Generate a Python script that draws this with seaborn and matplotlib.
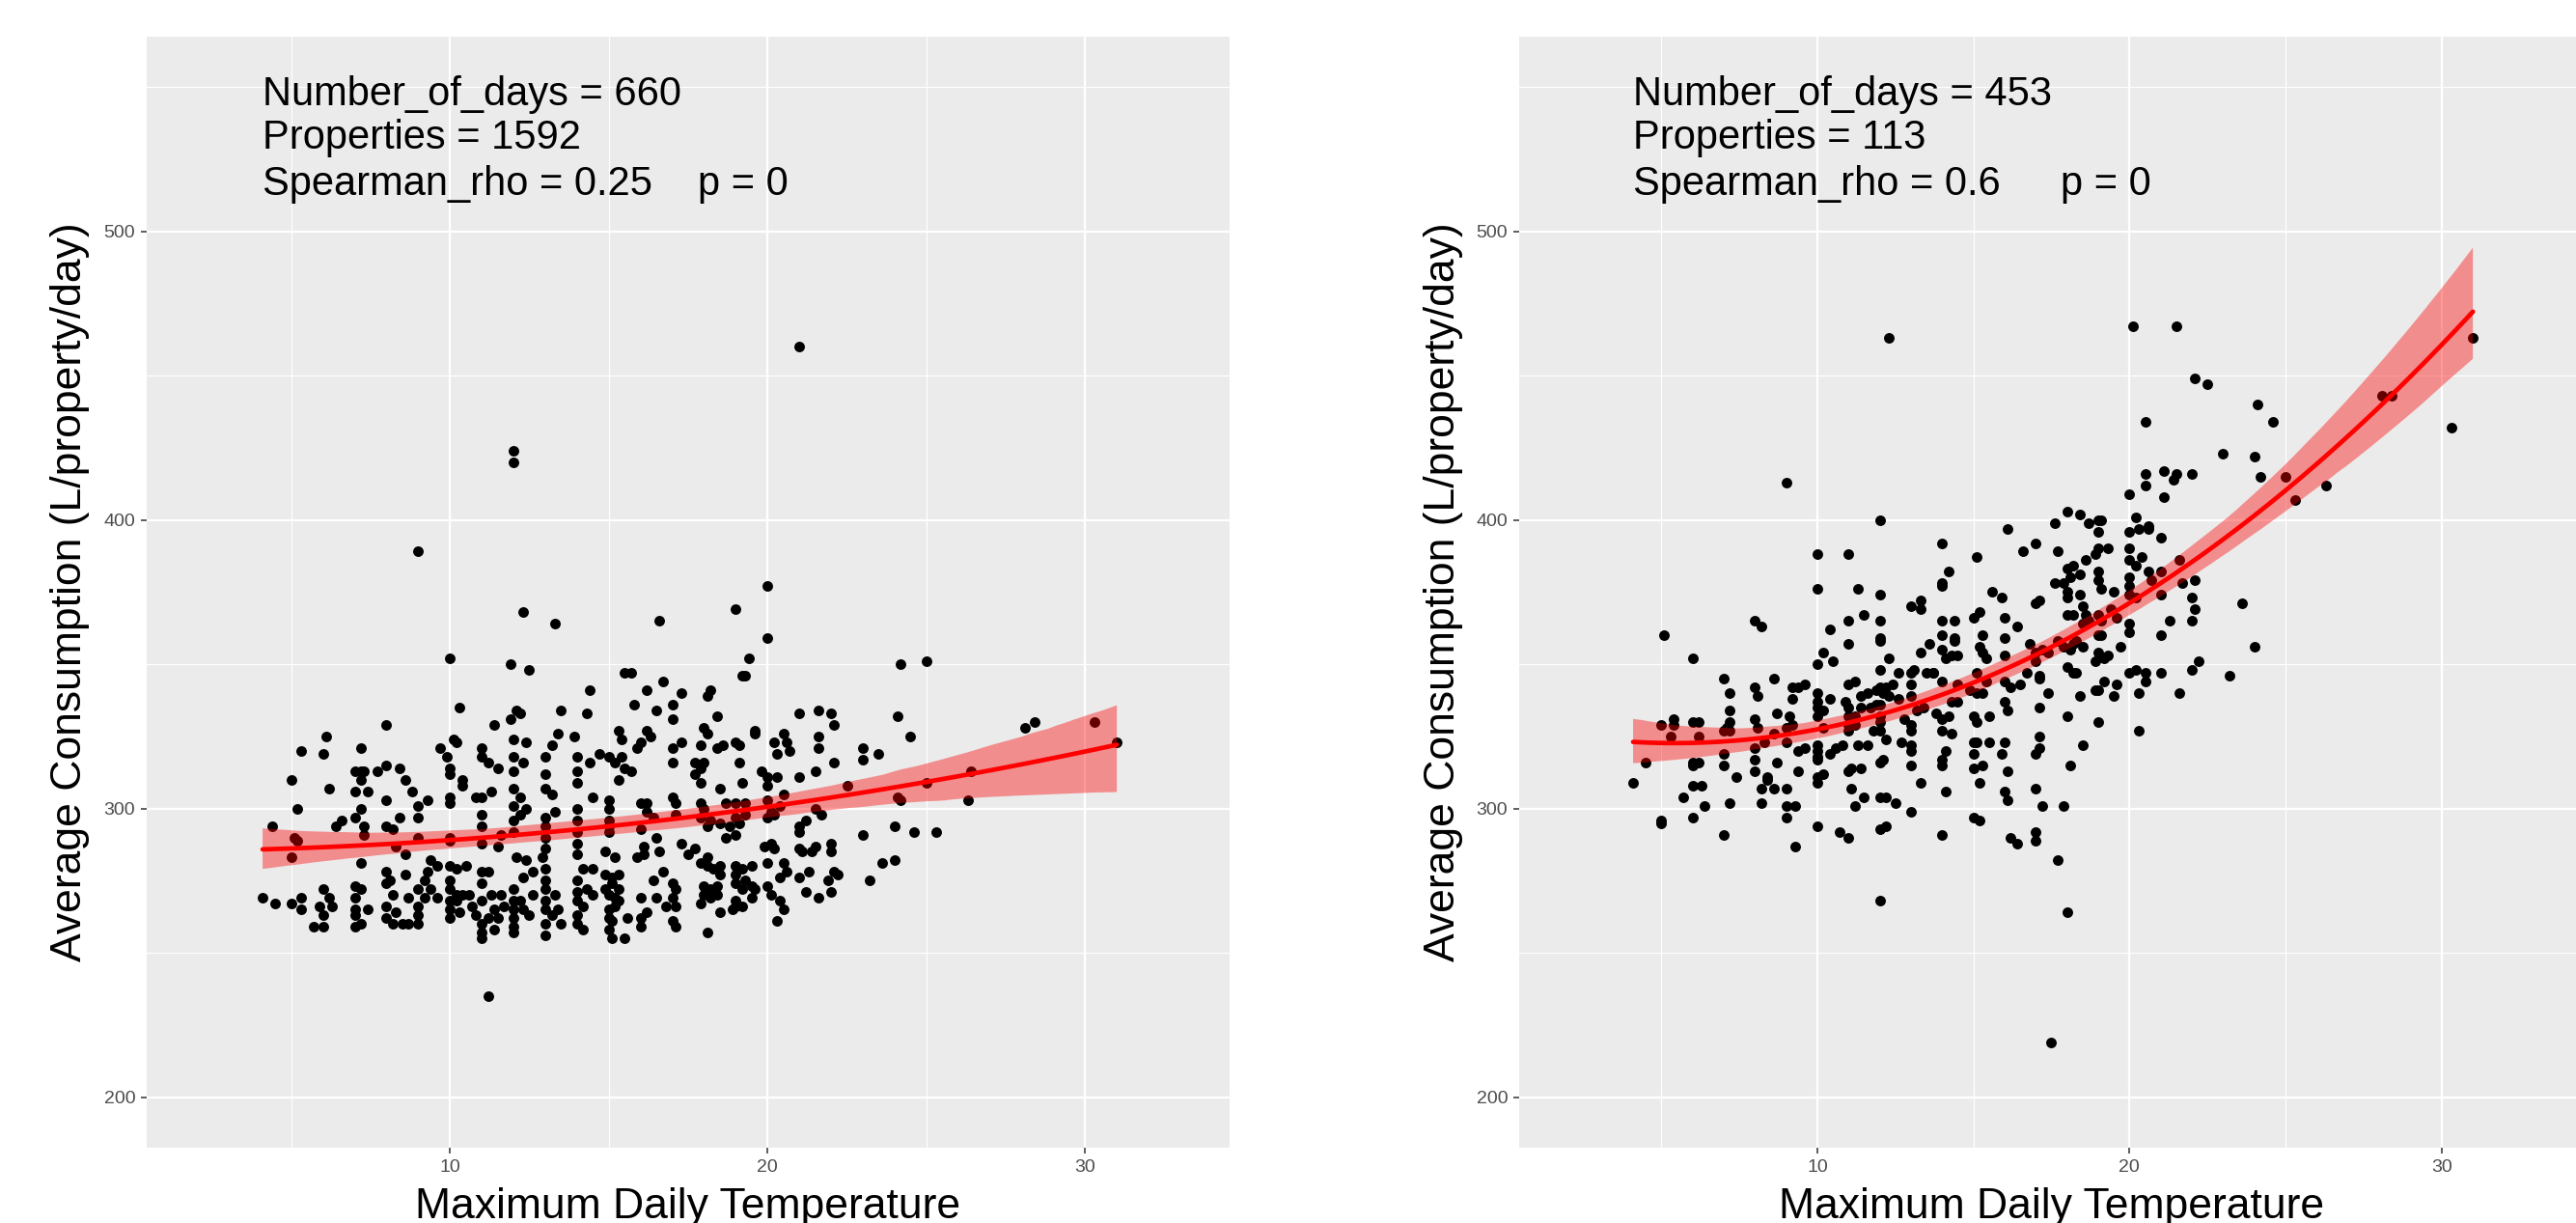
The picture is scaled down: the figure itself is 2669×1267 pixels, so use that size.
import matplotlib
matplotlib.use("Agg")
import pandas as pd
import matplotlib.pyplot as plt
import seaborn as sns
from matplotlib.ticker import MultipleLocator

# values, one line per temperature column
left_temp = [
    4.1, 4.5, 4.4,
    5.0, 5.2, 5.3, 5.1, 5.2, 5.0, 5.0, 5.3, 5.3,
    6.1, 6.0, 6.2, 6.4, 6.6, 6.0, 6.2, 5.9, 6.3, 6.0, 5.7, 6.0,
    7.2, 7.0, 7.2, 7.3, 7.2, 7.0, 7.4, 7.2, 7.0, 7.3, 7.3, 7.2, 7.0, 7.2, 7.0, 7.0, 7.4, 7.0, 7.2, 7.0,
    8.0, 7.7, 8.0, 8.4, 8.6, 8.0, 8.4, 8.0, 8.2, 8.8, 8.3, 8.6, 8.0, 8.1, 8.0, 8.6, 8.2, 8.7, 8.0, 8.3, 8.0, 8.2, 8.5, 8.7,
    9.0, 9.0, 9.3, 9.0, 9.0, 9.3, 9.0, 9.2, 9.4, 9.6, 9.4, 9.6, 9.0, 9.0, 9.0, 9.2,
    10.0, 10.3, 9.7, 9.9, 10.1, 10.2, 10.0, 10.0, 10.4, 10.4, 10.0, 10.0, 10.0, 10.0, 10.0, 10.2, 10.5, 10.0, 10.0, 10.2, 10.4, 10.6, 10.0, 10.0, 10.0, 10.2, 10.3,
    11.0, 11.0, 11.2, 11.5, 11.4, 10.8, 11.0, 11.3, 11.0, 11.0, 11.6, 11.5, 11.0, 11.0, 11.2, 11.0, 11.2, 11.0, 11.0, 10.7, 10.8, 11.0, 11.2, 11.3, 11.4, 11.0, 11.5, 11.6, 11.4, 11.7,
    12.0, 12.0, 11.9, 12.3, 12.5, 11.9, 12.1, 12.2, 12.0, 12.4, 12.0, 12.0, 12.3, 12.0, 12.2, 12.0, 12.4, 12.0, 12.2, 12.0, 12.1, 12.4, 12.6, 12.3, 12.0, 12.0, 12.0, 12.0, 12.0, 12.0, 12.2, 12.3, 12.5, 12.6,
    13.3, 13.2, 13.4, 13.5, 13.0, 13.0, 13.3, 13.0, 13.0, 12.9, 13.0, 13.0, 13.5, 13.0, 13.0, 13.0, 13.2, 13.0, 13.0, 13.0, 13.0, 13.0, 13.3, 13.4, 13.2,
    14.3, 14.4, 14.5, 14.2, 14.5, 14.0, 14.0, 14.0, 14.0, 14.0, 14.0, 14.0, 14.0, 14.0, 14.0, 14.0, 14.2, 14.0, 14.2, 14.0, 14.3, 14.5, 13.9,
    15.5, 15.3, 15.4, 15.8, 15.0, 15.0, 15.0, 15.0, 15.0, 14.9, 15.2, 14.9, 15.1, 15.3, 14.9, 15.1, 15.3, 15.0, 15.2, 15.0, 15.2, 15.3, 15.0, 15.1, 15.0, 15.1, 15.5, 15.6, 14.4, 14.7, 15.0, 15.2, 15.4, 15.5, 15.3, 15.7,
    15.7, 16.7, 16.2, 16.5, 16.2, 16.3, 16.0, 15.9, 16.0, 16.2, 16.2, 16.4, 16.0, 16.5, 16.6, 15.9, 16.1, 16.1, 16.4, 16.0, 16.2, 16.0, 16.0, 16.5, 16.7, 16.6,
    17.3, 17.0, 17.0, 17.3, 17.0, 17.0, 17.0, 17.1, 17.1, 17.3, 17.5, 17.7, 17.0, 17.1, 17.0, 16.8, 17.1, 17.0, 17.1,
    18.2, 18.1, 18.4, 18.0, 18.1, 17.9, 18.4, 18.6, 17.7, 17.7, 17.9, 18.0, 17.9, 18.5, 17.9, 18.0, 17.9, 18.2, 18.1, 18.5, 17.9, 18.1, 18.1, 18.3, 18.5, 18.5, 18.0, 18.2, 18.0, 18.4, 18.2, 17.9, 18.5, 18.1, 18.4,
    19.0, 19.4, 19.2, 19.3, 19.0, 19.1, 19.1, 19.2, 18.7, 19.0, 19.3, 19.3, 19.0, 19.1, 18.8, 18.7, 19.0, 19.0, 19.0, 19.2, 19.0, 19.2, 19.3, 19.0, 19.0, 18.9, 19.2, 19.5, 19.5, 19.5, 19.6,
    20.0, 20.0, 19.6, 20.2, 20.5, 20.6, 20.7, 20.3, 19.8, 20.0, 20.3, 20.0, 20.0, 20.1, 20.4, 20.5, 20.0, 20.2, 19.9, 20.1, 20.2, 20.0, 20.5, 20.4, 20.6, 20.0, 20.1, 20.4, 20.5, 20.3, 19.6,
    21.0, 21.0, 21.6, 22.0, 21.6, 21.6, 21.0, 21.5, 21.5, 21.7, 21.0, 21.2, 21.0, 21.0, 21.1, 21.0, 21.3, 21.2, 21.6, 21.4, 21.5,
    22.1, 22.1, 22.5, 22.0, 22.0, 21.9, 22.0, 22.2, 22.1,
    23.0, 23.0, 23.5, 23.0, 23.2, 23.6,
    24.1, 24.5, 24.2, 24.1, 24.0, 24.6, 24.0, 24.2,
    25.0, 25.0, 25.3, 26.4, 26.3, 28.1, 28.4, 30.3, 31.0,
]
left_cons = [
    269, 267, 294,
    310, 300, 320, 290, 289, 283, 267, 269, 265,
    325, 319, 307, 294, 296, 272, 269, 266, 266, 263, 259, 259,
    321, 313, 313, 313, 310, 306, 306, 300, 297, 294, 291, 281, 273, 272, 269, 265, 265, 263, 260, 259,
    329, 313, 315, 314, 310, 303, 297, 294, 293, 306, 287, 284, 278, 275, 274, 277, 270, 269, 266, 264, 262, 260, 260, 260,
    389, 301, 303, 297, 290, 278, 272, 269, 272, 269, 282, 280, 260, 263, 266, 275,
    352, 335, 321, 318, 324, 323, 314, 312, 310, 308, 304, 302, 290, 289, 280, 279, 280, 275, 272, 270, 270, 270, 268, 265, 262, 268, 264,
    321, 318, 316, 314, 329, 304, 304, 306, 298, 294, 291, 287, 288, 278, 278, 274, 235, 257, 255, 266, 263, 268, 262, 270, 265, 260, 262, 270, 258, 266,
    424, 420, 350, 368, 348, 331, 334, 333, 324, 323, 318, 313, 316, 307, 304, 301, 300, 296, 298, 292, 283, 282, 278, 276, 272, 268, 265, 262, 259, 257, 268, 265, 263, 270,
    364, 322, 326, 334, 297, 294, 299, 290, 286, 283, 260, 256, 260, 318, 312, 307, 305, 279, 275, 272, 268, 265, 270, 265, 263,
    333, 341, 304, 279, 279, 318, 313, 309, 300, 296, 292, 288, 284, 275, 271, 268, 266, 263, 258, 260, 272, 270, 325,
    347, 327, 324, 336, 303, 300, 296, 294, 292, 285, 283, 277, 276, 277, 272, 274, 272, 270, 269, 265, 266, 268, 262, 261, 258, 255, 255, 262, 316, 319, 318, 316, 318, 314, 310, 313,
    347, 344, 341, 334, 327, 325, 323, 321, 302, 302, 299, 297, 293, 290, 285, 283, 284, 287, 275, 269, 264, 262, 259, 269, 278, 365,
    340, 336, 331, 323, 321, 316, 304, 302, 298, 288, 284, 286, 274, 272, 269, 266, 266, 261, 259,
    341, 339, 332, 328, 326, 322, 321, 322, 316, 312, 314, 316, 309, 307, 302, 300, 297, 296, 294, 295, 281, 283, 280, 279, 280, 277, 273, 272, 270, 270, 269, 267, 264, 257, 273,
    369, 352, 346, 346, 323, 322, 316, 309, 302, 302, 302, 298, 297, 295, 294, 290, 291, 280, 277, 279, 274, 272, 275, 268, 266, 265, 266, 280, 273, 269, 272,
    377, 359, 326, 323, 326, 323, 320, 319, 313, 311, 311, 308, 303, 299, 301, 305, 297, 298, 287, 288, 286, 281, 281, 276, 278, 273, 270, 268, 265, 261, 327,
    460, 333, 334, 333, 325, 321, 311, 313, 300, 298, 294, 296, 292, 286, 285, 276, 278, 271, 269, 285, 287,
    329, 316, 308, 288, 285, 275, 271, 277, 278,
    321, 317, 319, 291, 275, 281,
    332, 325, 303, 304, 294, 292, 282, 350,
    351, 309, 292, 313, 303, 328, 330, 330, 323,
]

right_temp = [
    4.1, 4.5, 5.0, 5.0, 5.0, 5.1, 5.3, 5.4, 5.4, 5.7, 6.0, 6.0, 6.2, 6.2, 6.0, 6.2, 6.0, 6.0, 6.3, 6.4, 6.0,
    7.0, 7.2, 7.2, 7.2, 7.1, 7.2, 7.0, 7.0, 7.0, 7.4, 7.2, 7.0,
    8.0, 8.2, 8.0, 8.1, 8.0, 8.1, 8.6, 8.7, 8.6, 8.3, 8.0, 8.0, 8.0, 8.7, 8.4, 8.4, 8.2, 8.6, 8.2,
    9.0, 9.0, 9.3, 9.0, 9.3, 9.0, 9.1, 9.2, 9.0, 9.2, 9.2, 9.4, 9.6, 9.0, 9.4, 9.6, 9.4,
    10.0, 10.0, 10.2, 10.0, 10.5, 10.4, 10.0, 10.0, 10.0, 10.2, 10.4, 10.0, 10.2, 10.0, 10.0, 10.0, 10.0, 10.4, 10.6, 10.8, 10.0, 10.2, 10.0, 10.0, 10.7, 11.0,
    11.0, 11.3, 11.0, 11.5, 11.0, 11.0, 11.2, 10.9, 11.0, 11.0, 11.2, 11.4, 11.4, 11.6, 11.7, 11.0, 11.0, 11.2, 11.3, 11.6, 11.0, 11.1, 11.4, 11.1, 11.5, 11.2,
    12.0, 12.0, 12.0, 12.0, 12.0, 12.3, 12.0, 12.0, 12.2, 12.4, 11.9, 12.1, 12.3, 12.0, 11.9, 12.0, 12.0, 12.0, 11.8, 12.2, 12.0, 12.1, 12.0, 12.2, 12.5, 12.0, 12.2, 12.0, 12.6, 12.6, 12.3,
    13.0, 13.3, 13.3, 13.3, 13.0, 13.1, 13.5, 13.7, 13.0, 13.0, 12.8, 13.0, 13.0, 13.2, 13.4, 12.7, 13.0, 13.0, 13.0, 13.3, 13.0, 13.6, 13.7,
    14.0, 14.2, 14.0, 14.0, 14.0, 14.4, 14.0, 14.4, 14.0, 14.1, 14.3, 14.5, 14.4, 14.0, 14.5, 13.8, 14.3, 14.5, 14.0, 14.2, 14.0, 14.3, 14.1, 14.0, 14.0, 14.1, 14.0,
    15.0, 15.2, 15.1, 15.6, 15.9, 15.3, 15.2, 15.3, 15.4, 14.9, 15.1, 15.1, 15.3, 15.4, 15.0, 15.1, 15.5, 15.5, 15.0, 15.1, 15.0, 15.0, 15.3, 15.2, 15.0, 15.2, 15.9,
    16.1, 16.6, 16.0, 16.4, 16.0, 16.0, 16.8, 16.7, 16.0, 16.2, 16.5, 16.0, 16.1, 16.0, 16.1, 16.0, 16.1, 16.2, 16.4,
    17.0, 17.7, 17.0, 17.1, 17.6, 17.6, 17.0, 17.2, 17.0, 17.4, 17.7, 17.9, 17.1, 17.1, 17.4, 17.1, 17.1, 17.1, 17.0, 17.0, 17.2, 17.0, 17.0, 17.5,
    18.0, 18.4, 18.7, 19.0, 19.1, 19.0, 19.3, 19.0, 18.9, 18.6,
    18.0, 18.2, 18.1, 18.4, 17.9, 18.0, 18.0, 18.4, 18.5, 18.0,
    18.2, 18.6, 18.7, 18.5, 19.0, 19.0, 19.1, 19.0, 19.1, 19.4,
    19.0, 19.1, 18.1, 18.3, 18.2, 18.5, 19.0, 18.9, 19.2, 19.3,
    18.0, 18.2, 18.3, 19.2, 18.9, 19.0, 18.4, 19.5, 19.6, 18.0,
    19.0, 18.5, 18.1, 17.9, 17.7, 18.0, 19.5, 19.6, 19.7,
    20.1, 20.5, 20.0, 20.2, 20.3, 20.6, 20.6, 20.0, 20.0, 20.0, 20.2, 20.4, 20.0, 20.0, 20.6, 20.7, 20.2, 20.0, 20.0, 20.0, 20.0, 20.2, 20.5, 20.5, 20.3, 20.3, 20.5, 20.5,
    21.0, 21.0, 21.0, 21.0, 21.0, 21.1, 21.1, 21.4, 21.5, 21.5, 21.3, 21.6, 21.7, 21.6,
    22.0, 22.1, 22.5, 22.1, 22.0, 22.1, 22.0, 22.2, 22.0, 23.0, 23.2, 23.6, 24.1, 24.6, 24.0, 24.2, 24.0, 25.0, 25.3, 26.3, 28.1, 28.4, 30.3, 31.0,
]
right_cons = [
    309, 316, 296, 295, 329, 360, 325, 331, 329, 304, 352, 330, 330, 325, 316, 316, 315, 308, 308, 301, 297,
    345, 340, 334, 330, 328, 327, 327, 319, 315, 311, 302, 291,
    365, 363, 342, 339, 331, 328, 345, 333, 326, 323, 321, 317, 313, 316, 311, 310, 307, 307, 302,
    307, 301, 301, 297, 287, 413, 332, 329, 328, 338, 342, 342, 343, 323, 320, 321, 313,
    388, 376, 354, 350, 351, 362, 340, 337, 335, 334, 338, 332, 328, 322, 320, 318, 317, 319, 321, 322, 311, 312, 309, 294, 292, 290,
    388, 376, 365, 367, 357, 343, 344, 337, 335, 332, 332, 339, 335, 340, 335, 329, 327, 329, 322, 322, 313, 314, 314, 307, 304, 301,
    400, 374, 365, 359, 358, 352, 348, 342, 342, 343, 341, 340, 339, 336, 336, 332, 330, 327, 327, 324, 316, 317, 304, 304, 302, 293, 294, 268, 347, 338, 463,
    370, 372, 369, 354, 347, 348, 347, 347, 343, 339, 331, 329, 327, 334, 335, 323, 322, 320, 315, 309, 299, 357, 347,
    392, 382, 378, 377, 365, 365, 360, 359, 355, 352, 353, 353, 358, 344, 343, 333, 337, 337, 331, 332, 327, 326, 320, 317, 315, 306, 291,
    366, 368, 387, 375, 373, 360, 356, 354, 352, 341, 347, 340, 340, 344, 332, 330, 332, 323, 323, 323, 319, 314, 315, 309, 297, 296, 319,
    397, 389, 366, 363, 359, 353, 357, 347, 344, 342, 343, 337, 334, 323, 313, 306, 303, 290, 288,
    392, 389, 371, 372, 378, 399, 354, 355, 351, 354, 358, 356, 346, 345, 340, 335, 325, 321, 319, 307, 301, 292, 289, 219,
    403, 402, 399, 400, 400, 396, 390, 390, 388, 386,
    383, 384, 380, 381, 378, 375, 373, 374, 370, 367,
    367, 367, 365, 364, 382, 379, 376, 367, 365, 369,
    360, 360, 355, 358, 357, 356, 354, 351, 352, 353,
    349, 347, 347, 344, 341, 341, 339, 339, 343, 332,
    330, 322, 315, 301, 282, 264, 375, 366, 356,
    467, 434, 409, 401, 397, 398, 397, 396, 390, 386, 384, 387, 380, 377, 382, 379, 373, 374, 364, 361, 347, 348, 347, 344, 340, 327, 416, 412,
    394, 382, 374, 360, 347, 417, 408, 414, 416, 467, 365, 386, 378, 340,
    416, 449, 447, 379, 373, 369, 365, 351, 348, 423, 346, 371, 440, 434, 422, 415, 356, 415, 407, 412, 443, 443, 432, 463,
]

left_info = ["Number_of_days = 660", "Properties = 1592", "Spearman_rho = 0.25"]
right_info = ["Number_of_days = 453", "Properties = 113", "Spearman_rho = 0.6"]
p_text = "p = 0"
x_title = "Maximum Daily Temperature"
y_title = "Average Consumption (L/property/day)"

sns.set_style("darkgrid", {"axes.facecolor": "#EBEBEB", "grid.color": "white"})
plt.rcParams["font.family"] = ["Liberation Sans", "DejaVu Sans"]
plt.rcParams["text.color"] = "black"
plt.rcParams["axes.labelcolor"] = "black"

fig = plt.figure(figsize=(26.69, 12.67), dpi=100)
ax_left = fig.add_axes([0.05695, 0.06156, 0.42038, 0.9087])
ax_right = fig.add_axes([0.58973, 0.06156, 0.41327, 0.9087])


def draw_panel(ax, temp, cons, info):
    df = pd.DataFrame({"temp": temp, "cons": cons})
    sns.scatterplot(data=df, x="temp", y="cons", color="black", s=62,
                    linewidth=0, ax=ax, zorder=2)
    sns.regplot(data=df, x="temp", y="cons", order=2, scatter=False, ci=95,
                seed=3, color="red", ax=ax, line_kws={"lw": 3.4, "zorder": 4})
    band = ax.collections[-1]
    band.set_facecolor("red")
    band.set_edgecolor("none")
    band.set_alpha(0.4)
    band.set_zorder(3)

    ax.set_xlim(0.45, 34.55)
    ax.set_ylim(182.5, 567.5)
    ax.xaxis.set_major_locator(MultipleLocator(10))
    ax.xaxis.set_minor_locator(MultipleLocator(5))
    ax.yaxis.set_major_locator(MultipleLocator(100))
    ax.yaxis.set_minor_locator(MultipleLocator(50))
    ax.set_yticks([200, 300, 400, 500])
    ax.grid(which="major", color="white", lw=1.6)
    ax.grid(which="minor", color="white", lw=0.85)
    ax.set_axisbelow(True)
    for s in ax.spines.values():
        s.set_visible(False)
    ax.tick_params(which="major", length=4.5, width=1.1, color="#333333",
                   labelcolor="#4D4D4D", labelsize=14, pad=4,
                   bottom=True, left=True)
    ax.tick_params(which="minor", length=0)

    ax.set_xlabel(x_title, fontsize=32, color="black")
    ax.xaxis.set_label_coords(0.5, -0.036)
    ax.set_ylabel(y_title, fontsize=32, color="black")
    ax.yaxis.set_label_coords(-0.0526, 0.5)

    for line, y in zip(info, [543.8, 528.6, 512.6]):
        ax.text(4.1, y, line, fontsize=30, va="baseline", ha="left",
                color="black")
    ax.text(17.8, 512.6, p_text, fontsize=30, va="baseline", ha="left",
            color="black")


draw_panel(ax_left, left_temp, left_cons, left_info)
draw_panel(ax_right, right_temp, right_cons, right_info)

fig.savefig("out.png", dpi=100, facecolor="white")
